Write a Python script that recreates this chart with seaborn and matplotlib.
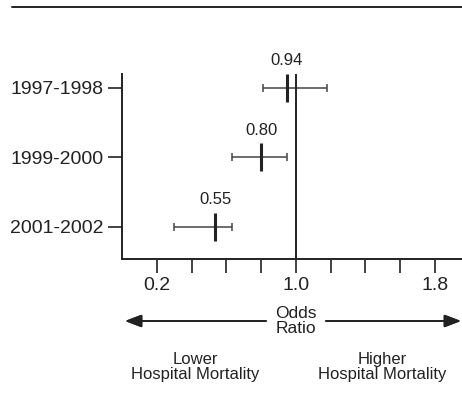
import matplotlib
matplotlib.use('Agg')
import matplotlib.pyplot as plt
import seaborn as sns
import pandas as pd
from matplotlib.lines import Line2D

periods = ['1997-1998', '1999-2000', '2001-2002']
odds = [0.94, 0.80, 0.55]
odds_pos = [0.948, 0.80, 0.535]   # where the marker sits on the axis
ci_low = [0.81, 0.63, 0.30]
ci_high = [1.18, 0.95, 0.63]
major_ticks = [0.2, 1.0, 1.8]
minor_ticks = [0.4, 0.6, 0.8, 1.2, 1.4, 1.6]

sns.set_style('ticks')
plt.rcParams['font.family'] = ['Liberation Sans', 'DejaVu Sans']
ink = '#222222'

df = pd.DataFrame({'period': periods, 'odds': odds, 'pos': odds_pos,
                   'lo': ci_low, 'hi': ci_high})
df['y'] = range(len(df))

fig = plt.figure(figsize=(4.62, 4.09), dpi=100)
ax = fig.add_axes([0.264, 0.367, 0.736, 0.452])

# confidence intervals
ax.errorbar(df['pos'], df['y'],
            xerr=[df['pos'] - df['lo'], df['hi'] - df['pos']],
            fmt='none', ecolor='#444444', elinewidth=1.1, capsize=3, capthick=1.1)
# point estimates
sns.scatterplot(data=df, x='pos', y='y', marker='|', s=380, linewidth=2.2,
                color=ink, ax=ax, zorder=3, legend=False)
ax.axvline(1.0, color=ink, lw=1.4, zorder=2)

for _, r in df.iterrows():
    ax.annotate(f"{r['odds']:.2f}", (r['pos'], r['y']), xytext=(0, 14),
                textcoords='offset points', ha='center', va='bottom',
                fontsize=12, color=ink)

ax.set_xlim(0.0, 1.955)
ax.set_ylim(2.46, -0.2)
ax.set_yticks(df['y'])
ax.set_yticklabels(periods, fontsize=14, color=ink)
ax.set_xticks(major_ticks)
ax.set_xticklabels([f"{t:.1f}" for t in major_ticks], fontsize=14, color=ink)
ax.set_xticks(minor_ticks, minor=True)
ax.tick_params(axis='both', which='both', length=10, width=1.2, color=ink, pad=3)
ax.set_xlabel('')
ax.set_ylabel('')
for s in ['top', 'right']:
    ax.spines[s].set_visible(False)
for s in ['left', 'bottom']:
    ax.spines[s].set_linewidth(1.4)
    ax.spines[s].set_color(ink)

# rule across the top
fig.add_artist(Line2D([12 / 462, 1.0], [1 - 7 / 409, 1 - 7 / 409],
                      color=ink, lw=1.4, transform=fig.transFigure))

# arrows and captions below the axis
ay = 1 - 321 / 409
arrow = dict(arrowstyle='-|>,head_length=1.0,head_width=0.38', color=ink, lw=1.3,
             shrinkA=0, shrinkB=0)
fig.add_artist(plt.annotate('', xy=(125 / 462, ay), xytext=(266 / 462, ay),
                            xycoords='figure fraction', textcoords='figure fraction',
                            arrowprops=arrow))
fig.add_artist(plt.annotate('', xy=(461 / 462, ay), xytext=(326 / 462, ay),
                            xycoords='figure fraction', textcoords='figure fraction',
                            arrowprops=arrow))
fig.text(296 / 462, ay, 'Odds\nRatio', ha='center', va='center', fontsize=12.5,
         color=ink, linespacing=0.95)
fig.text(195 / 462, 1 - 367 / 409, 'Lower\nHospital Mortality', ha='center',
         va='center', fontsize=12, color=ink, linespacing=0.95)
fig.text(382 / 462, 1 - 367 / 409, 'Higher\nHospital Mortality', ha='center',
         va='center', fontsize=12, color=ink, linespacing=0.95)

fig.savefig('out.png', dpi=100)
